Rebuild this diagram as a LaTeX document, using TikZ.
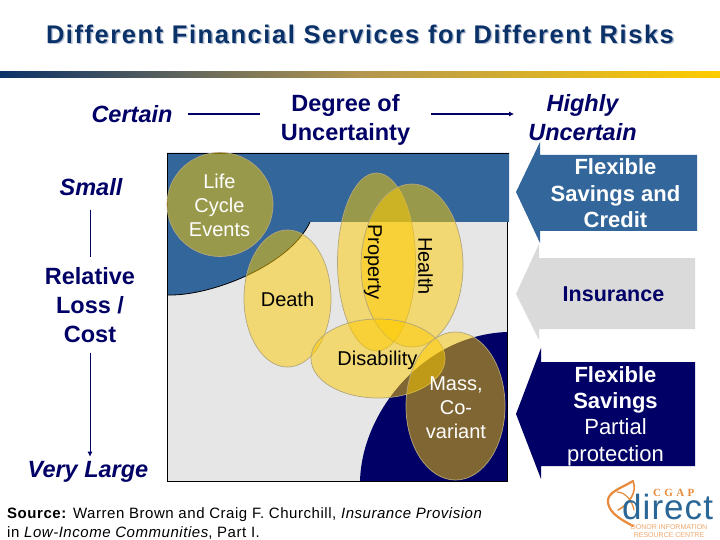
\documentclass[tikz,border=0pt]{standalone}
\usepackage{fontspec}
\setmainfont{Liberation Sans}
\newfontfamily\logoserif{Liberation Serif}
\usetikzlibrary{arrows.meta}
\definecolor{navy}{HTML}{000066}
\definecolor{band}{HTML}{33669A}
\definecolor{pale}{HTML}{E6E6E6}
\definecolor{arrowgrey}{HTML}{DADADA}
\definecolor{titleblue}{HTML}{0B3268}
\definecolor{titleshade}{HTML}{B4C0D4}
\definecolor{gold}{HTML}{FFCC00}
\definecolor{barmid}{HTML}{B39650}
\definecolor{rim}{HTML}{B3A67A}
\definecolor{logoorange}{HTML}{E88A3C}
\definecolor{logoblue}{HTML}{2B6796}
\newcommand{\fs}[1]{\fontsize{#1}{#1}\selectfont}
\tikzset{
  x=1pt,y=-1pt,
  risk/.style={fill=gold,fill opacity=.5,draw=rim,line width=.7pt},
  head/.style={text=navy,font=\fs{23.5}\bfseries,align=center,inner sep=0pt,text depth=0pt},
  headit/.style={head,font=\fs{23.5}\bfseries\itshape},
  inner/.style={font=\fs{20},align=center,inner sep=0pt},
  side/.style={font=\fs{22}\bfseries,align=center,inner sep=0pt},
  titletext/.style={font=\fs{25.5}\bfseries\addfontfeatures{LetterSpace=6.1},inner sep=0pt},
  link/.style={navy,line width=1.2pt},
  sidelink/.style={navy,line width=.8pt},
}
\begin{document}
\begin{tikzpicture}
\useasboundingbox (0,0) rectangle (720,540);
\fill[white] (0,0) rectangle (720,540);
% title
\node[titletext,text=titleshade] (titleshadow) at (361.3,35.8) {Different Financial Services for Different Risks};
\node[titletext,text=titleblue] (title) at (360,34.5) {Different Financial Services for Different Risks};
\shade[left color=titleblue,right color=gold,middle color=barmid] (0,72) rectangle (720,78);
% axis labels
\node[headit,inner xsep=15pt] (certain) at (132,114) {Certain};
\node[head,inner xsep=21pt] (degree) at (345.5,117.5) {Degree of\\[5.5pt]Uncertainty};
\node[headit,inner xsep=14pt] (highly) at (582.5,117.5) {Highly\\[5.5pt]Uncertain};
\draw[link] (certain.east) -- (degree.west |- certain.east);
\draw[link,-{Latex[length=5pt,width=5pt]}] (degree.east |- certain.east) -- (highly.west |- certain.east);
\node[headit,inner ysep=14pt] (small) at (91,187) {Small};
\node[head,inner ysep=10pt] (relative) at (90,305) {Relative\\[5.5pt]Loss /\\[5.5pt]Cost};
\node[headit,inner ysep=4pt] (large) at (88,469) {Very Large};
\draw[sidelink] (small.south -| relative.south) -- (relative.north);
\draw[sidelink,-{Latex[length=5pt,width=5pt]}] (relative.south) -- (relative.south |- large.north);
% chart
\fill[pale] (167,153) rectangle (507,481);
\fill[band] (167,153) -- (509,153) -- (509,222) -- (310,222) .. controls (290,265) and (212,296) .. (168,295) -- cycle;
\draw[black,line width=.8pt] (310,222) .. controls (290,265) and (212,296) .. (168,295);
\fill[navy] (360,481) .. controls (362,410) and (425,335) .. (507,332) -- (507,481) -- cycle;
\draw[black,line width=.8pt] (509,153) -- (167,153) -- (167,481) -- (507,481) -- (507,222);
\draw[risk] (220,204.5) ellipse [x radius=53,y radius=52];
\draw[risk] (287.5,298.5) ellipse [x radius=43.5,y radius=68.5];
\draw[risk] (376.5,262) ellipse [x radius=39,y radius=89];
\draw[risk] (412,265.5) ellipse [x radius=51,y radius=81.5];
\draw[risk] (378,358.5) ellipse [x radius=67,y radius=39.5];
\draw[risk] (455.5,406) ellipse [x radius=49.5,y radius=74];
\node[inner,text=white] (life) at (219.5,205) {Life\\[4pt]Cycle\\[4pt]Events};
\node[inner] (death) at (287.5,299) {Death};
\node[inner,rotate=-90] (property) at (373,262) {Property};
\node[inner,rotate=-90] (health) at (425.5,266) {Health};
\node[inner] (disability) at (377.5,360.5) {Disability};
\node[inner,text=white] (mass) at (456,408) {Mass,\\[4pt]Co-\\[4pt]variant};
% service arrows
\fill[band] (516,192) -- (540,142) -- (540,155) -- (697,155) -- (697,231) -- (540,231) -- (540,243) -- cycle;
\fill[arrowgrey] (516,294) -- (539,244) -- (539,258) -- (695,258) -- (695,329) -- (539,329) -- (539,340) -- cycle;
\fill[navy] (516,414) -- (541,348) -- (541,362) -- (695,362) -- (695,466) -- (541,466) -- (541,479) -- cycle;
\node[side,text=white] (flexa) at (615.5,193.5) {Flexible\\[4.5pt]Savings and\\[4.5pt]Credit};
\node[side,text=navy,font=\fs{21.5}\bfseries] (ins) at (613.5,294.5) {Insurance};
\node[side,text=white] (flexb) at (615.5,416) {Flexible\\[4.4pt]Savings\\[4.4pt]{\fs{22}\mdseries Partial}\\[4.4pt]{\fs{22}\mdseries protection}};
% source
\node[anchor=north west,align=left,font=\fs{15}\addfontfeatures{LetterSpace=3.6},inner sep=0pt] (source) at (7,507)
  {\textbf{Source:} Warren Brown and Craig F. Churchill, \textit{Insurance Provision}\\[4pt]in \textit{Low-Income Communities}, Part I.};
% logo
\draw[logoorange,line width=2.2pt,line cap=round] (633,481) .. controls (622,488) and (606,492) .. (608,503) .. controls (610,514) and (622,520) .. (633,526);
\draw[logoorange,line width=1.6pt,line cap=round] (633,481) .. controls (638,492) and (628,505) .. (618,510);
\draw[logoorange,line width=1.2pt,line cap=round] (617,492) .. controls (625,492) and (632,500) .. (634,510);
\node[anchor=west,inner sep=0pt,text=logoorange,font=\logoserif\fs{11}\bfseries\addfontfeatures{LetterSpace=30}] (cgap) at (653,493) {CGAP};
\node[anchor=west,inner sep=0pt,text=logoblue,font=\fs{35}\addfontfeatures{LetterSpace=3}] (direct) at (622,507) {direct};
\node[anchor=center,inner sep=0pt,text=logoorange!75,align=center,font=\fs{7}] (donor) at (669,531) {DONOR INFORMATION\\[1.5pt]RESOURCE CENTRE};
\end{tikzpicture}
\end{document}
